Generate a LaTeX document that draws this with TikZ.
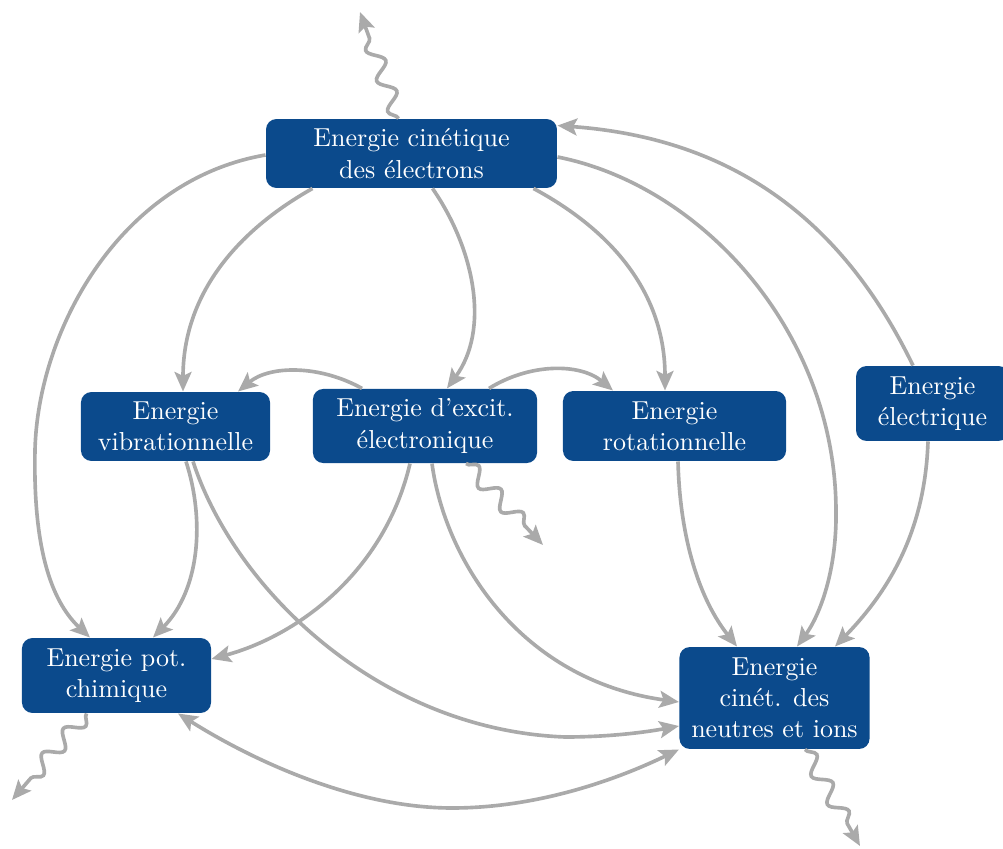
\documentclass[tikz,border=0pt]{standalone}
\usepackage{fontspec}
\usetikzlibrary{arrows.meta,calc,decorations.pathmorphing}
\definecolor{boxblue}{HTML}{0B4A8C}
\definecolor{linegray}{HTML}{AAAAAA}
\begin{document}
\begin{tikzpicture}[x=0.3846pt,y=-0.3846pt,
  ebox/.style={fill=boxblue,text=white,rounded corners=4pt,align=center,inner sep=0pt},
  flow/.style={draw=linegray,line width=1.4pt,-{Stealth[length=7.5pt,width=6.5pt,inset=1.5pt]}},
  bidir/.style={draw=linegray,line width=1.4pt,{Stealth[length=7.5pt,width=6.5pt,inset=1.5pt]}-{Stealth[length=7.5pt,width=6.5pt,inset=1.5pt]}},
  wavy/.style={flow,decorate,decoration={snake,amplitude=3pt,segment length=12.5pt,post length=5pt}}]
\path[use as bounding box] (0,0) rectangle (1003,849);

\node[ebox,minimum width=111.9pt,minimum height=26.5pt] (E1) at (411.5,153.5) {Energie cinétique\\des électrons};
\node[ebox,minimum width=72.7pt,minimum height=26.5pt] (Vib) at (175.5,426.5) {Energie\\vibrationnelle};
\node[ebox,minimum width=86.2pt,minimum height=28.5pt] (Exc) at (425,426) {Energie d'excit.\\électronique};
\node[ebox,minimum width=85.8pt,minimum height=26.9pt] (Rot) at (674.5,426) {Energie\\rotationnelle};
\node[ebox,minimum width=58.8pt,minimum height=28.8pt] (Elec) at (932.5,403.5) {Energie\\électrique};
\node[ebox,minimum width=72.7pt,minimum height=28.8pt] (Pot) at (116.5,675.5) {Energie pot.\\chimique};
\node[ebox,minimum width=73.1pt,minimum height=39.2pt] (Neut) at (774.5,698) {Energie\\cinét. des\\neutres et ions};

\coordinate (w1) at (360,12);
\coordinate (w2) at (543,545);
\coordinate (w3) at (12,800);
\coordinate (w4) at (860,846);

\draw[flow] ($(E1.south west)+(47,0)$) .. controls (230,235) and (183,300) .. ($(Vib.north)+(7.5,0)$);
\draw[flow] ($(E1.south west)+(167,0)$) .. controls (475,250) and (490,330) .. ($(Exc.north)+(22,0)$);
\draw[flow] ($(E1.south east)+(-24,0)$) .. controls (620,235) and (665,300) .. ($(Rot.north)+(-9.5,0)$);
\draw[flow] ($(E1.west)+(0,1.5)$) .. controls (120,180) and (38,330) .. (35,450) .. controls (33,545) and (50,600) .. ($(Pot.north)+(-26.5,0)$);
\draw[flow] ($(E1.east)+(0,3.5)$) .. controls (700,185) and (835,330) .. (836,510) .. controls (837,570) and (820,615) .. ($(Neut.north)+(22.5,0)$);
\draw[flow] ($(Elec.north)+(-19.5,0)$) .. controls (840,215) and (728,138) .. ($(E1.north east)+(0,7)$);
\draw[flow] ($(Elec.south)+(-4.5,0)$) .. controls (925,530) and (890,590) .. ($(Neut.north)+(60.5,0)$);
\draw[flow] ($(Exc.north)+(-63,0)$) .. controls (320,365) and (270,365) .. ($(Vib.north)+(62.5,0)$);
\draw[flow] ($(Exc.north)+(64,0)$) .. controls (530,363) and (580,363) .. ($(Rot.north)+(-61.5,0)$);
\draw[flow] ($(Vib.south)+(10.5,0)$) .. controls (205,520) and (200,590) .. ($(Pot.north)+(36.5,0)$);
\draw[flow] ($(Vib.south)+(17.5,0)$) .. controls (235,590) and (380,730) .. (565,737) .. controls (615,737) and (652,731) .. ($(Neut.west)+(0,28)$);
\draw[flow] ($(Exc.south)+(-15,0)$) .. controls (385,570) and (300,635) .. ($(Pot.east)+(0,-16.5)$);
\draw[flow] ($(Exc.south)+(7,0)$) .. controls (445,560) and (520,680) .. ($(Neut.west)+(0,4)$);
\draw[flow] ($(Rot.south)+(3.5,0)$) .. controls (680,540) and (700,600) .. ($(Neut.north)+(-37.5,0)$);
\draw[bidir] ($(Pot.south)+(61.5,0)$) .. controls (260,765) and (360,808) .. (452,808) .. controls (540,808) and (620,778) .. (Neut.south west);

\draw[wavy] ($(E1.north)+(-13,0)$) -- (w1);
\draw[wavy] ($(Exc.south)+(41,0)$) -- (w2);
\draw[wavy] ($(Pot.south)+(-30,0)$) -- (w3);
\draw[wavy] ($(Neut.south)+(30.5,0)$) -- (w4);
\end{tikzpicture}
\end{document}
